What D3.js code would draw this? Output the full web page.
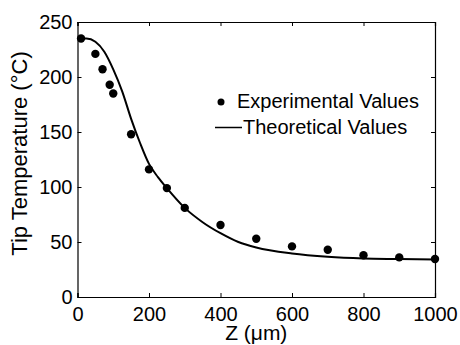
<!DOCTYPE html>
<html>
<head>
<meta charset="utf-8">
<script src="https://cdn.jsdelivr.net/npm/d3@7"></script>
<style>
  body { margin: 0; background: #fff; }
  text { font-family: "Liberation Sans", Arial, sans-serif; fill: #000; }
</style>
</head>
<body>
<div id="container"></div>
<script>
// Chart size
const width = 460;
const height = 345;

// Experimental points (Z in um, temperature in C)
const expZ = [10, 50, 70, 90, 100, 150, 200, 250, 300, 400, 500, 600, 700, 800, 900, 1000];
const expT = [235, 221, 207, 193, 185, 148, 116, 99, 81, 65.5, 53, 46, 43, 38, 36, 34.5];

// Theoretical curve
const theoZ = [0, 25, 50, 75, 100, 125, 150, 175, 200, 225, 250, 300, 350, 400, 450, 500, 600, 700, 800, 900, 1000];
const theoT = [235, 235, 232, 223, 207, 187, 162, 140, 121, 109, 99, 81, 68, 58, 50, 45, 39.5, 36.5, 35, 34.5, 34];

// Tick values
const xTicks = [0, 200, 400, 600, 800, 1000];
const yTicks = [0, 50, 100, 150, 200, 250];

const margin = { left: 77.5, right: 25, top: 22, bottom: 48 };

const svg = d3.select("#container")
    .append("svg")
    .attr("width", width)
    .attr("height", height);

const x = d3.scaleLinear()
    .domain([0, 1000])
    .range([margin.left, width - margin.right]);

const y = d3.scaleLinear()
    .domain([0, 250])
    .range([height - margin.bottom, margin.top]);

// Axes with inward ticks on all four sides
const tickLen = 4;
svg.append("g")
    .attr("transform", `translate(0,${y(0)})`)
    .call(d3.axisBottom(x).tickValues(xTicks).tickSize(-tickLen).tickPadding(10).tickFormat(d3.format("d")))
    .call(g => g.selectAll("text").style("font-size", "20px"));

svg.append("g")
    .attr("transform", `translate(0,${y(250)})`)
    .call(d3.axisTop(x).tickValues(xTicks).tickSize(-tickLen).tickFormat(""));

svg.append("g")
    .attr("transform", `translate(${x(0)},0)`)
    .call(d3.axisLeft(y).tickValues(yTicks).tickSize(-tickLen).tickPadding(5))
    .call(g => g.selectAll("text").style("font-size", "20px"));

svg.append("g")
    .attr("transform", `translate(${x(1000)},0)`)
    .call(d3.axisRight(y).tickValues(yTicks).tickSize(-tickLen).tickFormat(""));

svg.selectAll(".domain").attr("stroke", "#000").attr("stroke-width", 1.2);
svg.selectAll(".tick line").attr("stroke", "#000");

// Theoretical curve
const line = d3.line()
    .x((d, i) => x(theoZ[i]))
    .y(d => y(d))
    .curve(d3.curveMonotoneX);

svg.append("path")
    .datum(theoT)
    .attr("fill", "none")
    .attr("stroke", "#000")
    .attr("stroke-width", 2)
    .attr("d", line);

// Experimental points
svg.append("g")
    .selectAll("circle")
    .data(expT)
    .enter()
    .append("circle")
    .attr("cx", (d, i) => x(expZ[i]))
    .attr("cy", d => y(d))
    .attr("r", 4.2)
    .attr("fill", "#000");

// Legend
const legend = svg.append("g");
legend.append("circle")
    .attr("cx", 221)
    .attr("cy", 102)
    .attr("r", 3.5)
    .attr("fill", "#000");
legend.append("text")
    .attr("x", 237)
    .attr("y", 107.5)
    .style("font-size", "20px")
    .text("Experimental Values");
legend.append("line")
    .attr("x1", 215)
    .attr("x2", 242)
    .attr("y1", 127.5)
    .attr("y2", 127.5)
    .attr("stroke", "#000")
    .attr("stroke-width", 1.5);
legend.append("text")
    .attr("x", 243)
    .attr("y", 134)
    .style("font-size", "20px")
    .text("Theoretical Values");

// Axis titles
svg.append("text")
    .attr("x", (x(0) + x(1000)) / 2)
    .attr("y", 340)
    .attr("text-anchor", "middle")
    .style("font-size", "21px")
    .text("Z (\u03bcm)");

svg.append("text")
    .attr("transform", `translate(27,${(y(0) + y(250)) / 2 - 6}) rotate(-90)`)
    .attr("text-anchor", "middle")
    .style("font-size", "22px")
    .text("Tip Temperature (\u00b0C)");
</script>
</body>
</html>
